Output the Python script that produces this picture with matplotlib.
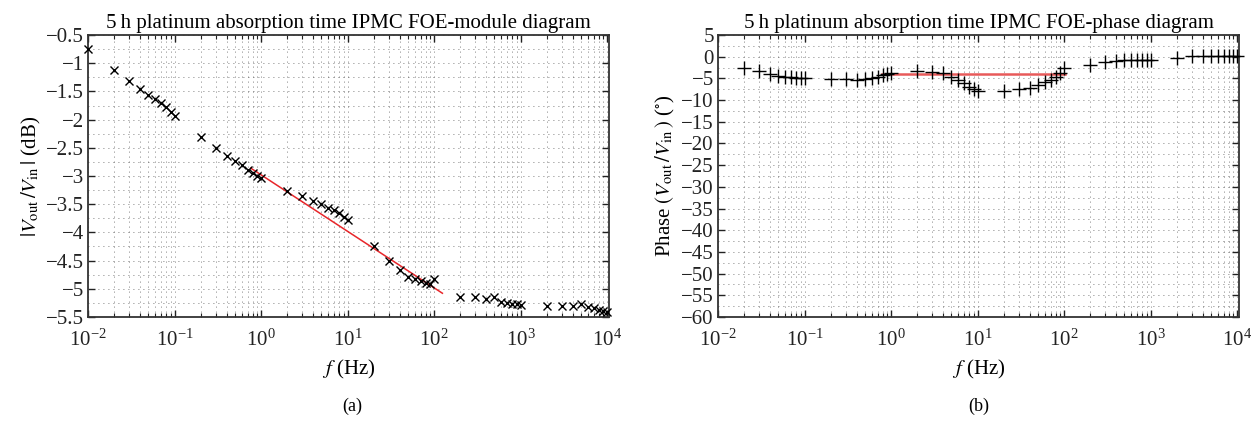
import matplotlib
matplotlib.use("Agg")
import matplotlib.pyplot as plt
from matplotlib.ticker import FixedLocator, MultipleLocator, FuncFormatter, NullFormatter, LogFormatterSciNotation

plt.rcParams['font.family'] = ['Liberation Serif', 'DejaVu Serif']
plt.rcParams['mathtext.fontset'] = 'stix'

# ---- data: module (a) ----
freq_mod = [0.01, 0.02, 0.03, 0.04, 0.05, 0.06, 0.07, 0.08, 0.09, 0.1,
            0.2, 0.3, 0.4, 0.5, 0.6, 0.7, 0.8, 0.9, 1.0,
            2, 3, 4, 5, 6, 7, 8, 9, 10,
            20, 30, 40, 50, 60, 70, 80, 90, 100,
            200, 300, 400, 500, 600, 700, 800, 900, 1000,
            2000, 3000, 4000, 5000, 6000, 7000, 8000, 9000, 10000]
module_db = [-0.75, -1.12, -1.32, -1.46, -1.56, -1.64, -1.71, -1.78, -1.86, -1.94,
             -2.31, -2.51, -2.64, -2.73, -2.81, -2.89, -2.95, -3.00, -3.04,
             -3.26, -3.35, -3.45, -3.50, -3.56, -3.60, -3.66, -3.72, -3.78,
             -4.25, -4.51, -4.67, -4.80, -4.83, -4.86, -4.89, -4.92, -4.83,
             -5.14, -5.14, -5.19, -5.15, -5.23, -5.26, -5.27, -5.27, -5.28,
             -5.30, -5.31, -5.30, -5.27, -5.33, -5.35, -5.37, -5.39, -5.42]
fit_mod_f = [0.76, 125]
fit_mod_db = [-2.86, -5.08]

# ---- data: phase (b) ----
freq_ph = [0.02, 0.03, 0.04, 0.05, 0.06, 0.07, 0.08, 0.09, 0.1,
           0.2, 0.3, 0.4, 0.5, 0.6, 0.7, 0.8, 0.9, 1.0,
           2, 3, 4, 5, 6, 7, 8, 9, 10,
           20, 30, 40, 50, 60, 70, 80, 90, 100,
           200, 300, 400, 500, 600, 700, 800, 900, 1000,
           2000, 3000, 4000, 5000, 6000, 7000, 8000, 9000, 10000]
phase_deg = [-2.7, -3.3, -4.0, -4.45, -4.6, -4.75, -4.8, -4.85, -4.9,
             -5.1, -5.2, -5.4, -5.1, -4.9, -4.6, -4.3, -4.0, -3.7,
             -3.3, -3.5, -3.7, -4.76, -5.4, -6.1, -6.9, -7.5, -7.8,
             -7.8, -7.5, -7.1, -6.6, -5.8, -5.3, -4.6, -3.7, -2.7,
             -1.9, -1.15, -0.9, -0.8, -0.8, -0.8, -0.8, -0.8, -0.76,
             -0.37, 0.2, 0.2, 0.2, 0.2, 0.2, 0.2, 0.2, 0.2]
fit_ph_f = [0.78, 102]
fit_ph_deg = [-4.05, -4.05]

x_decades = [1e-2, 1e-1, 1e0, 1e1, 1e2, 1e3, 1e4]

fs = 15
fig = plt.figure(figsize=(12.52, 4.22), dpi=100)
ax1 = fig.add_axes([0.0703, 0.249, 0.416, 0.668])
ax2 = fig.add_axes([0.5735, 0.249, 0.416, 0.668])

def minus_fmt(v, pos):
    s = ('%g' % v)
    return s.replace('-', '\u2212')

minor_x = [m * d for d in x_decades[:-1] for m in range(2, 10)]

for ax in (ax1, ax2):
    ax.set_xscale('log')
    ax.set_xlim(1e-2, 1.05e4)
    ax.xaxis.set_major_locator(FixedLocator(x_decades))
    ax.xaxis.set_major_formatter(LogFormatterSciNotation())
    ax.xaxis.set_minor_locator(FixedLocator(minor_x))
    ax.xaxis.set_minor_formatter(NullFormatter())
    ax.yaxis.set_major_formatter(FuncFormatter(minus_fmt))
    ax.grid(True, which='both', linestyle=(0, (1, 5)), color='#555555', linewidth=0.6)
    ax.tick_params(which='both', direction='in', top=True, right=True, labelsize=fs, colors='#222222')
    ax.tick_params(which='major', length=5, width=1.0)
    ax.tick_params(which='minor', length=3, width=0.8)
    ax.tick_params(axis='x', which='major', pad=9)
    ax.tick_params(axis='y', which='major', pad=3)
    ax.tick_params(axis='y', which='minor', length=0)
    for sp in ax.spines.values():
        sp.set_linewidth(1.3)
        sp.set_color('#333333')
    ax.set_xlabel('$f$ (Hz)', fontsize=fs, labelpad=5)

# (a)
ax1.plot(freq_mod, module_db, linestyle='none', marker='x', color='black',
         markersize=6, markeredgewidth=1.0, clip_on=False, zorder=3)
ax1.plot(fit_mod_f, fit_mod_db, color='#e8262a', linewidth=1.1, zorder=2)
ax1.set_ylim(-5.5, -0.5)
ax1.yaxis.set_major_locator(MultipleLocator(0.5))
ax1.yaxis.set_minor_locator(MultipleLocator(0.25))
ax1.set_ylabel(r'$|V_{\rm out}\,/V_{\rm in}\,|$ (dB)', fontsize=fs, labelpad=2)
ax1.set_title('5\u2009h platinum absorption time IPMC FOE-module diagram', fontsize=fs, pad=5)

# (b)
ax2.plot(freq_ph, phase_deg, linestyle='none', marker='+', color='black',
         markersize=10, markeredgewidth=1.0, clip_on=False, zorder=3)
ax2.plot(fit_ph_f, fit_ph_deg, color='#e85a5a', linewidth=1.8, zorder=2)
ax2.set_ylim(-60, 5)
ax2.yaxis.set_major_locator(MultipleLocator(5))
ax2.yaxis.set_minor_locator(MultipleLocator(2.5))
ax2.set_ylabel(r'Phase $(V_{\rm out}\,/V_{\rm in}\,)$ ($^{\circ}$)', fontsize=fs, labelpad=3)
ax2.set_title('5\u2009h platinum absorption time IPMC FOE-phase diagram', fontsize=fs, pad=5)

fig.text(0.2811, 0.038, '(a)', ha='center', va='center', fontsize=fs - 2)
fig.text(0.7815, 0.038, '(b)', ha='center', va='center', fontsize=fs - 2)

fig.savefig('out.png', dpi=100)
